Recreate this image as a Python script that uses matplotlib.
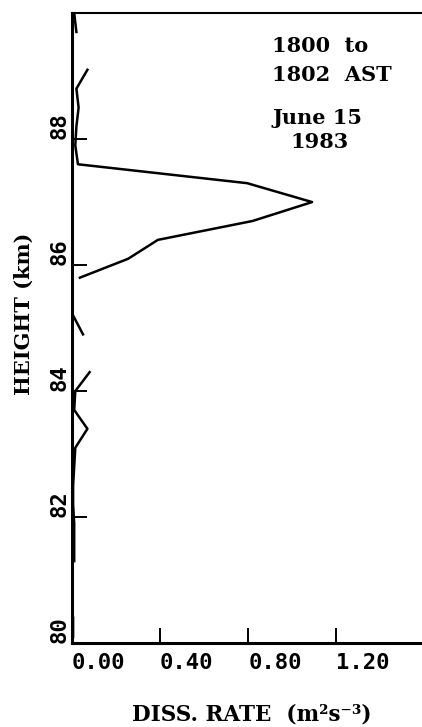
import numpy as np
import matplotlib.pyplot as plt

# height gates (km) and dissipation rate (m^2 s^-3); nan = no data
heights = [90.0, 89.7, 89.4, 89.1, 88.8, 88.5, 88.2, 87.9, 87.6, 87.3,
           87.0, 86.7, 86.4, 86.1, 85.8, 85.5, 85.2, 84.9, 84.6, 84.3,
           84.0, 83.7, 83.4, 83.1, 82.8, 82.5, 82.2, 81.9, 81.6, 81.3,
           81.0, 80.7, 80.4, 80.1]
diss_rate = [0.01, 0.02, np.nan, 0.07, 0.02, 0.03, 0.02, 0.015, 0.027, 0.795,
             1.09, 0.82, 0.39, 0.255, 0.036, np.nan, 0.005, 0.05, np.nan, 0.08,
             0.015, 0.01, 0.07, 0.015, 0.01, 0.005, 0.005, 0.01, 0.01, 0.01,
             np.nan, np.nan, 0.005, 0.005]

x_ticks = [0.0, 0.4, 0.8, 1.2]
x_ticklabels = ["0.00", "0.40", "0.80", "1.20"]
y_ticks = [80, 82, 84, 86, 88]
y_ticklabels = ["80", "82", "84", "86", "88"]

fig = plt.figure(figsize=(4.22, 7.27), dpi=100)
ax = fig.add_axes([0.1706, 0.1155, 0.83, 0.8665])

ax.plot(diss_rate, heights, color='black', linewidth=1.8)

ax.set_xlim(0, 1.59)
ax.set_ylim(80, 90)

mono = dict(family='DejaVu Sans Mono', weight='bold', size=16)
serif = dict(family='DejaVu Serif', weight='bold')

ax.set_xticks(x_ticks)
ax.set_xticklabels(x_ticklabels, fontdict=mono, ha='left')
ax.set_yticks(y_ticks)
ax.set_yticklabels(y_ticklabels, fontdict=mono, rotation=90, va='bottom')

ax.tick_params(axis='x', direction='in', length=11, width=1.4, pad=7)
ax.tick_params(axis='y', direction='in', length=11, width=1.4, pad=2)

ax.spines['left'].set_linewidth(2.2)
ax.spines['bottom'].set_linewidth(2.2)
ax.spines['top'].set_linewidth(1.5)
ax.spines['right'].set_visible(False)

# axis titles
fig.text(0.057, 0.568, "HEIGHT (km)", fontsize=15, rotation=90,
         ha='center', va='center', **serif)
fig.text(0.597, 0.017, "DISS. RATE  (m²s⁻³)", fontsize=15.5,
         ha='center', va='center', **serif)

# run time / date annotation
ax.text(0.909, 89.48, "1800  to", fontsize=15, ha='left', va='center', **serif)
ax.text(0.909, 89.02, "1802  AST", fontsize=15, ha='left', va='center', **serif)
ax.text(1.116, 88.33, "June 15", fontsize=15, ha='center', va='center', **serif)
ax.text(1.123, 87.95, "1983", fontsize=15, ha='center', va='center', **serif)

fig.savefig("out.png", dpi=100)
